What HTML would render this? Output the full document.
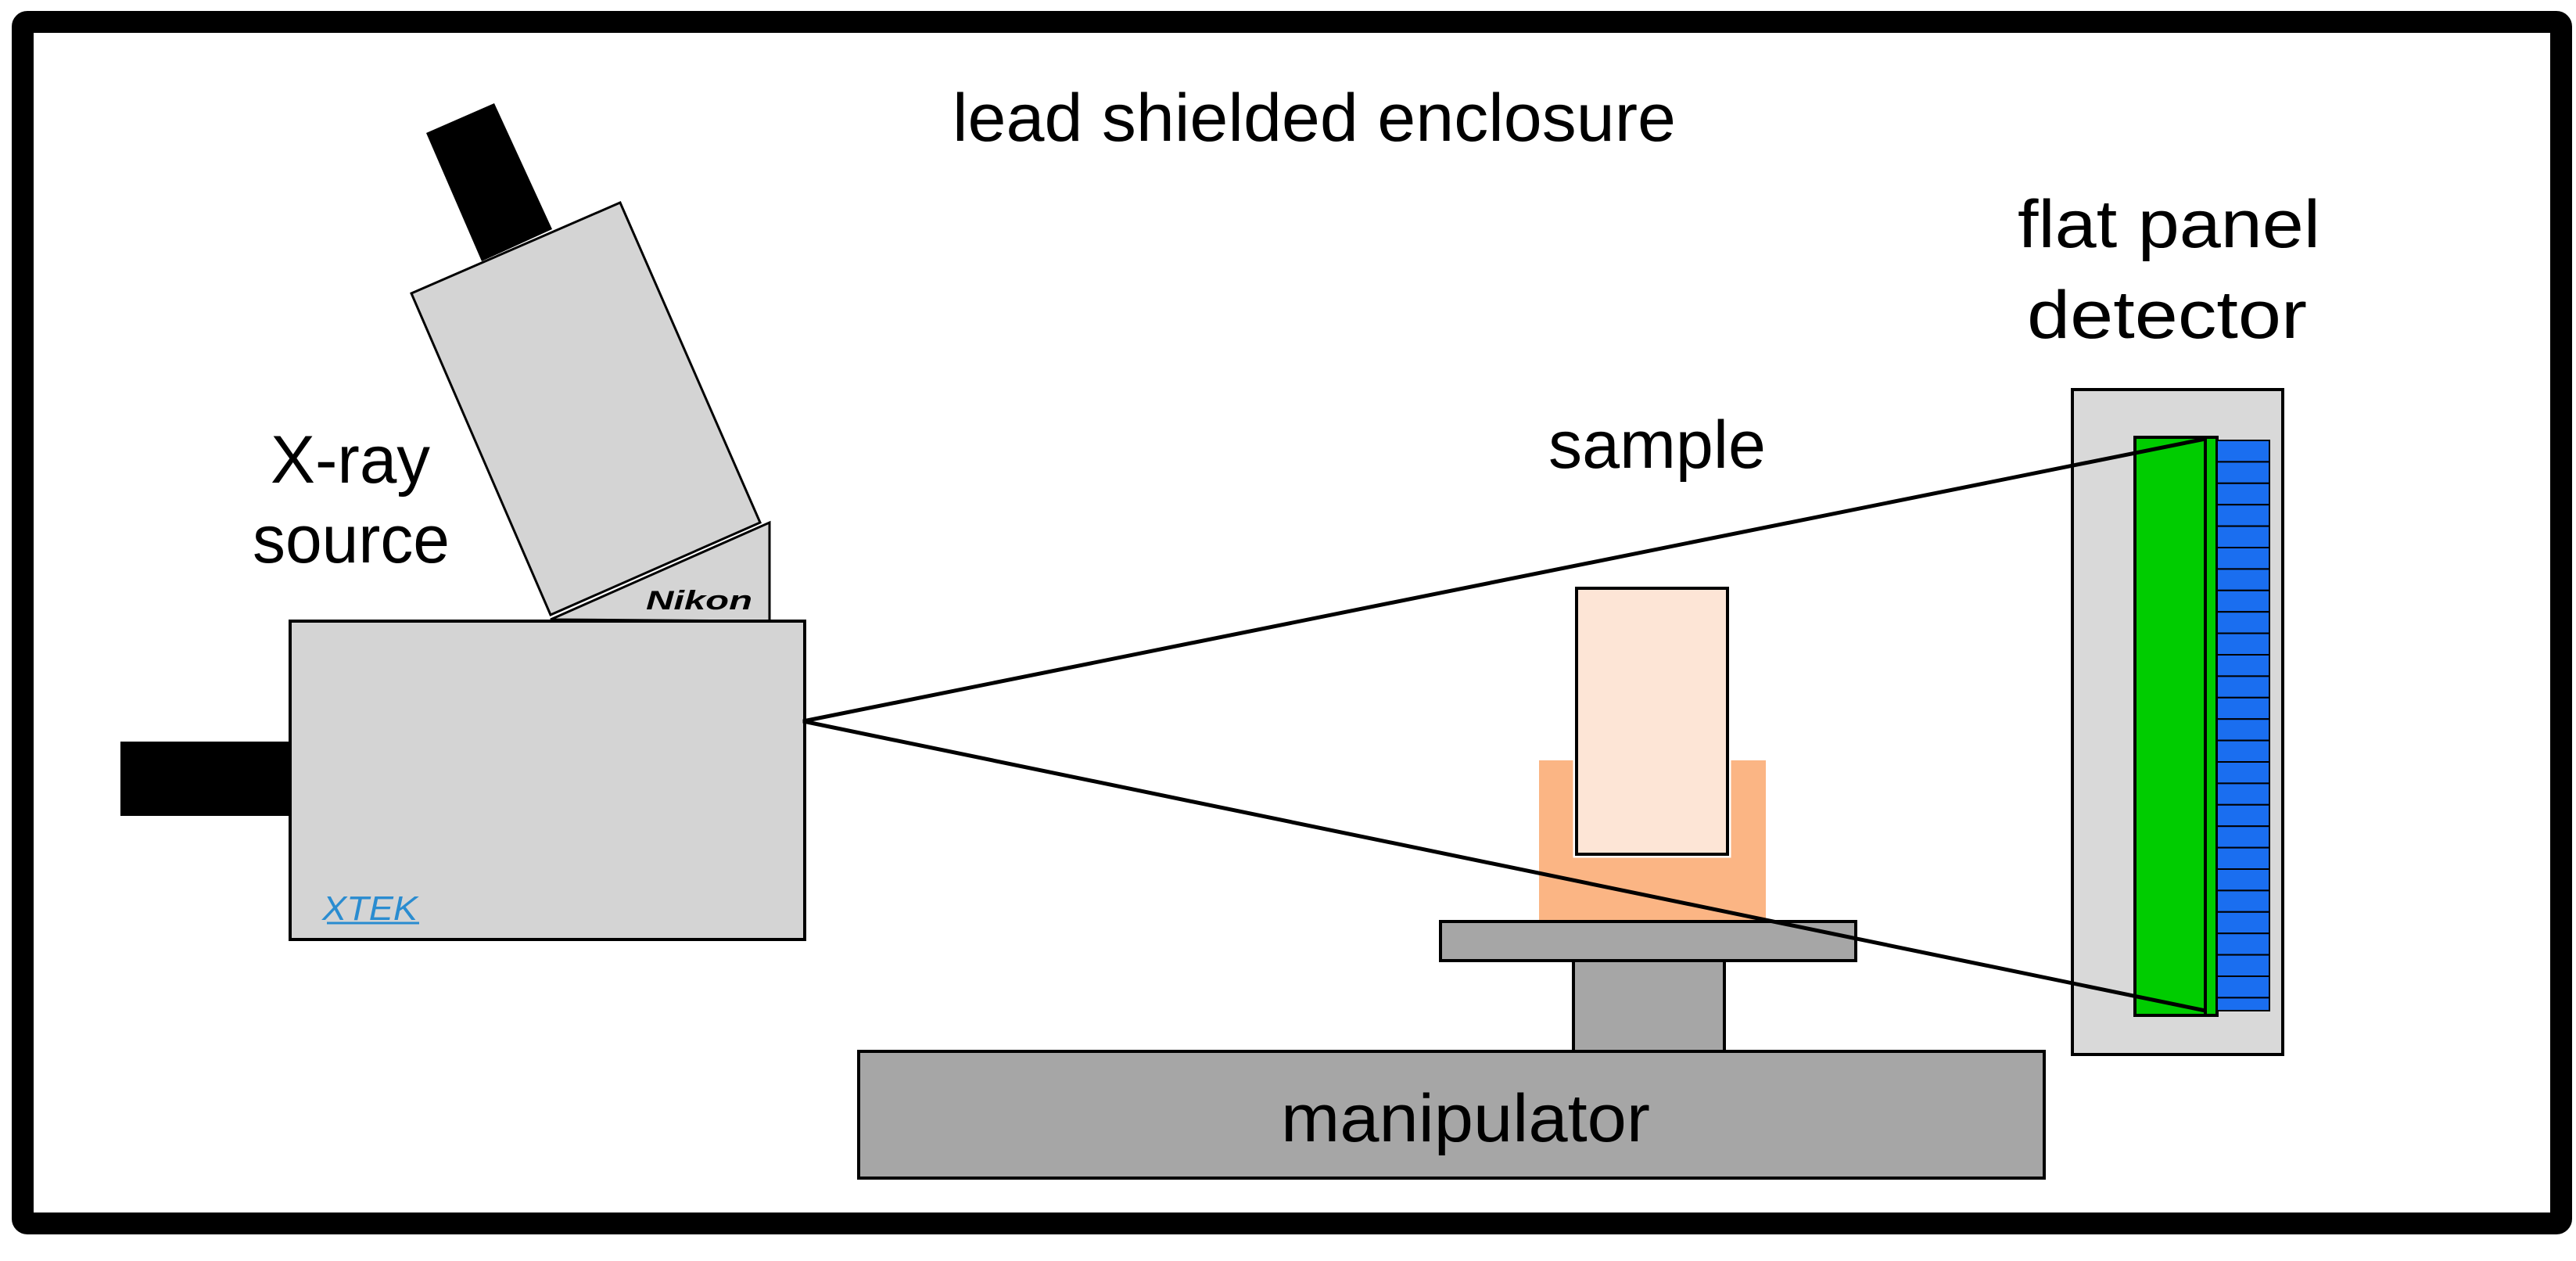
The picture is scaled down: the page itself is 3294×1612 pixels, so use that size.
<!DOCTYPE html>
<html><head><meta charset="utf-8"><style>html,body{margin:0;padding:0;background:#fff}svg{display:block}</style></head>
<body>
<svg width="3294" height="1612" viewBox="0 0 3294 1612" xmlns="http://www.w3.org/2000/svg" font-family="'Liberation Sans', sans-serif">
<rect x="0" y="0" width="3294" height="1612" fill="#fff"/>
<rect x="29" y="28" width="3246" height="1536" rx="6" fill="none" stroke="#000" stroke-width="28"/>

<!-- texts -->
<text x="1218" y="180" font-size="86" textLength="925" lengthAdjust="spacingAndGlyphs">lead shielded enclosure</text>
<text x="2580" y="316" font-size="86" textLength="387" lengthAdjust="spacingAndGlyphs">flat panel</text>
<text x="2592" y="432" font-size="86" textLength="358" lengthAdjust="spacingAndGlyphs">detector</text>
<text x="1980" y="598" font-size="86" textLength="278" lengthAdjust="spacingAndGlyphs">sample</text>
<text x="346" y="617" font-size="86" textLength="204" lengthAdjust="spacingAndGlyphs">X-ray</text>
<text x="323" y="719" font-size="86" textLength="252" lengthAdjust="spacingAndGlyphs">source</text>

<!-- X-ray source -->
<polygon points="545,170 632,132 706,293 616,334" fill="#000"/>
<rect x="154" y="948" width="217" height="95" fill="#000"/>
<polygon points="704,792 984,668 984,794" fill="#d4d4d4" stroke="#000" stroke-width="3"/>
<polygon points="526,375 793,259 972,668 704,786" fill="#d4d4d4" stroke="#000" stroke-width="3"/>
<text x="826" y="779" font-size="34" font-weight="bold" font-style="italic" textLength="136" lengthAdjust="spacingAndGlyphs">Nikon</text>
<rect x="371" y="794" width="658" height="407" fill="#d4d4d4" stroke="#000" stroke-width="4"/>
<text x="412" y="1176" font-size="44" font-style="italic" fill="#2a8cd0" textLength="122" lengthAdjust="spacingAndGlyphs">XTEK</text>
<line x1="418" y1="1180" x2="536" y2="1180" stroke="#2a8cd0" stroke-width="3"/>

<!-- manipulator -->
<rect x="1098" y="1344" width="1516" height="162" fill="#a6a6a6" stroke="#000" stroke-width="4"/>
<text x="1638" y="1459" font-size="86" textLength="472" lengthAdjust="spacingAndGlyphs">manipulator</text>
<rect x="2012" y="1228" width="193" height="116" fill="#a6a6a6" stroke="#000" stroke-width="4"/>
<rect x="1842" y="1178" width="531" height="50" fill="#a6a6a6" stroke="#000" stroke-width="4"/>

<!-- sample -->
<rect x="1968" y="972" width="290" height="204" fill="#fbb584"/>
<rect x="2016" y="752" width="193" height="340" fill="#fde5d6" stroke="#fff" stroke-width="9"/>
<rect x="2016" y="752" width="193" height="340" fill="#fde5d6" stroke="#000" stroke-width="4"/>

<!-- detector -->
<rect x="2650" y="498" width="269" height="850" fill="#d9d9d9" stroke="#000" stroke-width="4"/>
<rect x="2730" y="559" width="105" height="739" fill="#00cc00" stroke="#000" stroke-width="4"/>
<line x1="2820" y1="559" x2="2820" y2="1298" stroke="#000" stroke-width="4"/>
<g fill="#1a6ef0" stroke="#000" stroke-width="2">
<rect x="2835" y="563" width="67" height="27.4"/><rect x="2835" y="590.4" width="67" height="27.4"/><rect x="2835" y="617.8" width="67" height="27.4"/><rect x="2835" y="645.2" width="67" height="27.4"/><rect x="2835" y="672.6" width="67" height="27.4"/><rect x="2835" y="700" width="67" height="27.4"/><rect x="2835" y="727.4" width="67" height="27.4"/><rect x="2835" y="754.8" width="67" height="27.4"/><rect x="2835" y="782.2" width="67" height="27.4"/><rect x="2835" y="809.6" width="67" height="27.4"/><rect x="2835" y="837" width="67" height="27.4"/><rect x="2835" y="864.4" width="67" height="27.4"/><rect x="2835" y="891.8" width="67" height="27.4"/><rect x="2835" y="919.2" width="67" height="27.4"/><rect x="2835" y="946.6" width="67" height="27.4"/><rect x="2835" y="974" width="67" height="27.4"/><rect x="2835" y="1001.4" width="67" height="27.4"/><rect x="2835" y="1028.8" width="67" height="27.4"/><rect x="2835" y="1056.2" width="67" height="27.4"/><rect x="2835" y="1083.6" width="67" height="27.4"/><rect x="2835" y="1111" width="67" height="27.4"/><rect x="2835" y="1138.4" width="67" height="27.4"/><rect x="2835" y="1165.8" width="67" height="27.4"/><rect x="2835" y="1193.2" width="67" height="27.4"/><rect x="2835" y="1220.6" width="67" height="27.4"/><rect x="2835" y="1248" width="67" height="27.4"/><rect x="2835" y="1275.4" width="67" height="16.6"/>
</g>

<!-- beam cone -->
<polyline points="2820,561 1027,922 2820,1292" fill="none" stroke="#000" stroke-width="5"/>
</svg>
</body></html>
